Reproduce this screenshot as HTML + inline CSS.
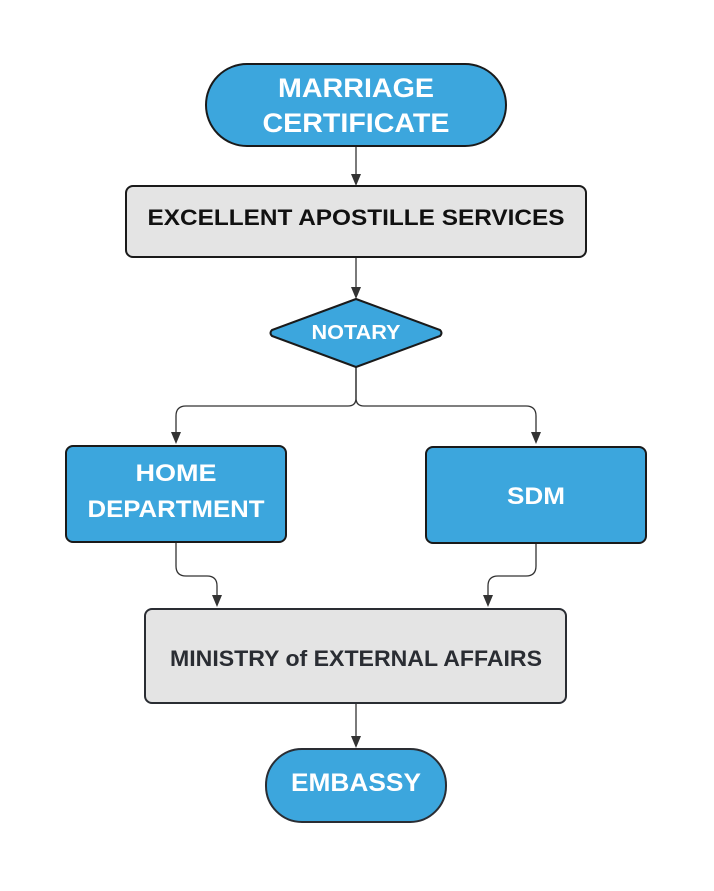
<!DOCTYPE html>
<html><head><style>body{margin:0;background:#fff}</style></head><body>
<svg width="714" height="886" viewBox="0 0 714 886" xmlns="http://www.w3.org/2000/svg" font-family="Liberation Sans, Arial, sans-serif" font-weight="bold">
<g stroke="#333" stroke-width="1.3" fill="none">
<path d="M356 146 V176"/><path d="M356 257 V290"/>
<path d="M356 367 V398 Q356 406 348 406 H186 Q176 406 176 416 V436"/>
<path d="M356 367 V398 Q356 406 364 406 H526 Q536 406 536 416 V436"/>
<path d="M176 542 V566 Q176 576 186 576 H207 Q217 576 217 586 V597"/>
<path d="M536 543 V566 Q536 576 526 576 H498 Q488 576 488 586 V597"/>
<path d="M356 703 V737"/>
</g>
<g fill="#333">
<path d="M351 174 L361 174 L356 186 z"/><path d="M351 287 L361 287 L356 299 z"/>
<path d="M171 432 L181 432 L176 444 z"/><path d="M531 432 L541 432 L536 444 z"/>
<path d="M212 595 L222 595 L217 607 z"/><path d="M483 595 L493 595 L488 607 z"/>
<path d="M351 736 L361 736 L356 748 z"/>
</g>
<g stroke="#1a1a1a" stroke-width="2">
<rect x="206" y="64" width="300" height="82" rx="41" fill="#3ca6dd"/>
<rect x="126" y="186" width="460" height="71" rx="7" fill="#e4e4e4"/>
<path d="M356 299 L440 330 Q443 333 440 336 L356 367 L272 336 Q269 333 272 330 z" fill="#3ca6dd"/>
<rect x="66" y="446" width="220" height="96" rx="7" fill="#3ca6dd"/>
<rect x="426" y="447" width="220" height="96" rx="7" fill="#3ca6dd"/>
<rect x="145" y="609" width="421" height="94" rx="7" fill="#e4e4e4" stroke="#2a2d33"/>
<rect x="266" y="749" width="180" height="73" rx="36" fill="#3ca6dd" stroke="#2a2d33"/>
</g>
<g text-anchor="middle" fill="#fff" lengthAdjust="spacingAndGlyphs">
<text x="356" y="97" font-size="27" textLength="156" lengthAdjust="spacingAndGlyphs">MARRIAGE</text>
<text x="356" y="132" font-size="27" textLength="187" lengthAdjust="spacingAndGlyphs">CERTIFICATE</text>
<text x="356" y="225" font-size="22" fill="#111" textLength="417" lengthAdjust="spacingAndGlyphs">EXCELLENT APOSTILLE SERVICES</text>
<text x="356" y="339" font-size="20" textLength="89" lengthAdjust="spacingAndGlyphs">NOTARY</text>
<text x="176" y="481" font-size="24" textLength="81" lengthAdjust="spacingAndGlyphs">HOME</text>
<text x="176" y="517" font-size="24" textLength="177" lengthAdjust="spacingAndGlyphs">DEPARTMENT</text>
<text x="536" y="504" font-size="24" textLength="58" lengthAdjust="spacingAndGlyphs">SDM</text>
<text x="356" y="666" font-size="22" fill="#2a2d33" textLength="372" lengthAdjust="spacingAndGlyphs">MINISTRY of EXTERNAL AFFAIRS</text>
<text x="356" y="791" font-size="25" textLength="130" lengthAdjust="spacingAndGlyphs">EMBASSY</text>
</g>
</svg>
</body></html>
